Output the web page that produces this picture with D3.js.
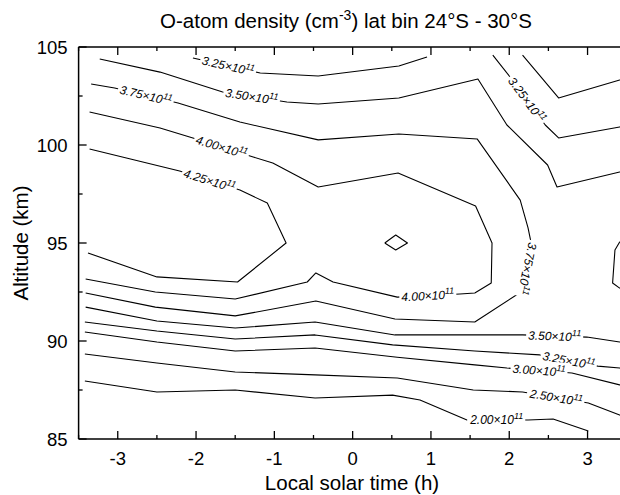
<!DOCTYPE html>
<html><head><meta charset="utf-8">
<script src="https://cdn.jsdelivr.net/npm/d3@7/dist/d3.min.js"></script>
<style>body{margin:0;background:#fff}svg{display:block}</style>
</head><body><svg id="c" width="620" height="495"></svg>
<script>
// ---- data (local solar time h, altitude km) ----
const timeTicks = [-3,-2,-1,0,1,2,3];
const altTicks = [85,90,95,100,105];
const c325Top = [[-2.04,104.44],[-1.18,103.67],[-0.44,103.52],[0.59,104.03],[0.95,104.49]];
const c350Top = [[-3.23,104.39],[-2.46,103.72],[-1.66,102.70],[-0.84,102.19],[-0.44,102.09],[0.59,102.40],[1.60,103.37],[1.97,101.02],[2.49,98.98],[2.61,97.86],[3.41,98.62],[3.5,98.70]];
const c325Right = [[1.79,104.59],[2.01,103.47],[2.46,101.02],[2.63,100.36],[3.41,100.92],[3.5,100.97]];
const c300Right = [[2.17,104.59],[2.63,102.40],[3.41,103.32],[3.5,103.42]];
const c375 = [[-3.34,103.11],[-3.04,102.91],[-2.23,102.14],[-1.44,101.17],[-0.44,100.26],[0.59,100.56],[1.59,100.31],[2.14,97.19],[2.24,95.77],[2.29,94.80],[2.17,92.55],[1.56,90.97],[0.54,91.12],[-0.47,92.04],[-1.50,91.28],[-2.52,91.73],[-3.41,92.45]];
const c400 = [[-3.36,101.68],[-2.46,100.87],[-2.04,100.36],[-1.27,99.39],[-1.02,99.08],[-0.44,97.86],[0.58,98.57],[1.57,96.89],[1.78,95.0],[1.77,92.96],[1.56,92.45],[1.37,92.40],[0.57,92.24],[-0.25,93.01],[-0.47,93.47],[-0.58,93.01],[-1.50,92.14],[-2.52,92.50],[-3.41,93.16]];
const c425 = [[-3.36,99.80],[-2.21,98.67],[-1.44,97.70],[-1.09,97.04],[-0.85,95.0],[-1.47,93.01],[-2.50,93.27],[-3.38,94.49]];
const c425Peak = [[0.41,95.0],[0.55,95.41],[0.70,95.0],[0.55,94.64],[0.41,95.0]];
const cRightEdge = [[3.5,95.15],[3.41,95.05],[3.35,94.64],[3.32,92.96],[3.41,92.70],[3.5,92.60]];
const c350Low = [[-3.41,91.73],[-2.50,91.02],[-1.50,90.66],[-0.48,90.97],[0.54,90.31],[2.17,90.31],[2.99,90.20],[3.41,89.95],[3.5,89.90]];
const c325Low = [[-3.42,90.97],[-2.50,90.51],[-1.50,90.10],[-0.48,90.31],[0.51,89.80],[1.56,89.49],[2.39,89.29],[3.13,88.72],[3.41,88.62],[3.5,88.57]];
const c300Low = [[-3.42,90.46],[-2.50,89.95],[-1.50,89.49],[-0.48,89.64],[0.57,89.17],[1.56,88.78],[1.97,88.62],[2.80,88.37],[3.41,87.76],[3.5,87.66]];
const c250Low = [[-3.42,89.34],[-2.50,88.88],[-1.50,88.42],[-0.48,88.27],[0.57,88.11],[1.54,87.50],[2.17,87.40],[3.01,86.84],[3.41,86.22],[3.5,86.07]];
const c200Low = [[-3.42,87.96],[-2.50,87.40],[-1.50,87.50],[-0.48,87.09],[0.51,87.24],[0.86,86.99],[1.46,85.97],[2.24,85.97],[2.56,86.02],[3.01,85.41]];
const contourLines = [c325Top,c350Top,c325Right,c300Right,c375,c400,c425,c425Peak,cRightEdge,c350Low,c325Low,c300Low,c250Low,c200Low];
// contour labels (value ×10^11, line, position)
const labelValue = ["3.25","3.50","3.75","4.00","4.25","3.25","3.75","4.00","3.50","3.25","3.00","2.50","2.00"];
const labelLine  = [c325Top,c350Top,c375,c400,c425,c325Right,c375,c400,c350Low,c325Low,c300Low,c250Low,c200Low];
const labelT     = [-1.59,-1.29,-2.64,-1.67,-1.82,2.22,2.23,0.96,2.58,2.76,2.38,2.60,1.84];
const labelAlt   = [104.03,102.45,102.55,99.95,98.3,102.3,93.7,92.33,90.26,89.0,88.5,87.12,85.97];

// ---- drawing ----
const svg = d3.select("#c");
const x = d3.scaleLinear().domain([-3.5,3.5]).range([78.6,626.7]);
const y = d3.scaleLinear().domain([85,105]).range([439,47]);
const FONT = "'Liberation Sans', Arial, Helvetica, sans-serif";

svg.append("defs").append("clipPath").attr("id","clip").append("rect")
  .attr("x",x(-3.5)).attr("y",y(105)).attr("width",x(3.5)-x(-3.5)).attr("height",y(85)-y(105));

const plot = svg.append("g").attr("clip-path","url(#clip)");
const line = d3.line().x(d=>x(d[0])).y(d=>y(d[1]));
plot.selectAll("path.c").data(contourLines).join("path").attr("class","c")
  .attr("d",d=>line(d)).attr("fill","none").attr("stroke","#000").attr("stroke-width",1.1)
  .attr("stroke-linejoin","round");

// labels
const lg = plot.append("g");
labelValue.forEach((v,i)=>{
  const pts = labelLine[i].map(p=>[x(p[0]),y(p[1])]);
  const px = x(labelT[i]), py = y(labelAlt[i]);
  let best=null, bd=Infinity;
  for(let k=0;k<pts.length-1;k++){
    const [ax,ay]=pts[k],[bx,by]=pts[k+1];
    const dx=bx-ax, dy=by-ay, L=dx*dx+dy*dy;
    let u=((px-ax)*dx+(py-ay)*dy)/L; u=Math.max(0,Math.min(1,u));
    const qx=ax+u*dx, qy=ay+u*dy, dd=(qx-px)**2+(qy-py)**2;
    if(dd<bd){bd=dd;best={qx,qy,ang:Math.atan2(dy,dx)*180/Math.PI};}
  }
  let a=best.ang; if(a>120) a-=180; if(a<-90) a+=180;
  const g = lg.append("g").attr("transform",`translate(${best.qx},${best.qy}) rotate(${a})`);
  const t = g.append("text").attr("text-anchor","middle").attr("dy","0.36em")
    .attr("font-family",FONT).attr("font-style","italic").attr("font-size",12).attr("fill","#000");
  t.append("tspan").text(v+"\u00d710");
  t.append("tspan").attr("dy",-5).attr("font-size",9).text("11");
  const bb = t.node().getBBox();
  g.insert("rect","text").attr("x",bb.x-2).attr("y",bb.y-1).attr("width",bb.width+4).attr("height",bb.height+2).attr("fill","#fff");
});

// axes (ticks inside)
const ax = svg.append("g").attr("stroke","#000").attr("fill","none");
const x0=x(-3.5), x1=x(3.5), yb=y(85), yt=y(105);
ax.append("line").attr("x1",x0).attr("x2",x1).attr("y1",yb).attr("y2",yb).attr("stroke-width",1.5);
ax.append("line").attr("x1",x0).attr("x2",x1).attr("y1",yt).attr("y2",yt).attr("stroke-width",1.5);
ax.append("line").attr("x1",x0).attr("x2",x0).attr("y1",yt).attr("y2",yb).attr("stroke-width",1.5);
const xMinor = d3.range(-3.5,3.51,0.5);
xMinor.forEach(v=>{
  const major = Number.isInteger(v);
  const len = major?8:4;
  ax.append("line").attr("x1",x(v)).attr("x2",x(v)).attr("y1",yb).attr("y2",yb-len).attr("stroke-width",1.3);
  ax.append("line").attr("x1",x(v)).attr("x2",x(v)).attr("y1",yt).attr("y2",yt+len).attr("stroke-width",1.3);
});
d3.range(85,105.1,2.5).forEach(v=>{
  const major = v%5===0; const len = major?8:4;
  ax.append("line").attr("x1",x0).attr("x2",x0+len).attr("y1",y(v)).attr("y2",y(v)).attr("stroke-width",1.3);
});
const tx = svg.append("g").attr("font-family",FONT).attr("fill","#000");
tx.selectAll("text.xt").data(timeTicks).join("text").attr("class","xt").attr("font-size",18.5)
  .attr("x",d=>x(d)).attr("y",yb+26).attr("text-anchor","middle").text(d=>d);
tx.selectAll("text.yt").data(altTicks).join("text").attr("class","yt").attr("font-size",18.5)
  .attr("x",x0-11).attr("y",d=>y(d)+6.6).attr("text-anchor","end").text(d=>d);
tx.append("text").attr("font-size",20.5).attr("x",352).attr("y",490).attr("text-anchor","middle").text("Local solar time (h)");
tx.append("text").attr("font-size",20.5).attr("transform",`translate(28,${(yt+yb)/2}) rotate(-90)`).attr("text-anchor","middle").text("Altitude (km)");
const title = tx.append("text").attr("font-size",20.5).attr("x",346).attr("y",28).attr("text-anchor","middle");
title.append("tspan").text("O-atom density (cm");
title.append("tspan").attr("dy",-8).attr("font-size",14).text("-3");
title.append("tspan").attr("dy",8).text(") lat bin 24\u00b0S - 30\u00b0S");
</script></body></html>
